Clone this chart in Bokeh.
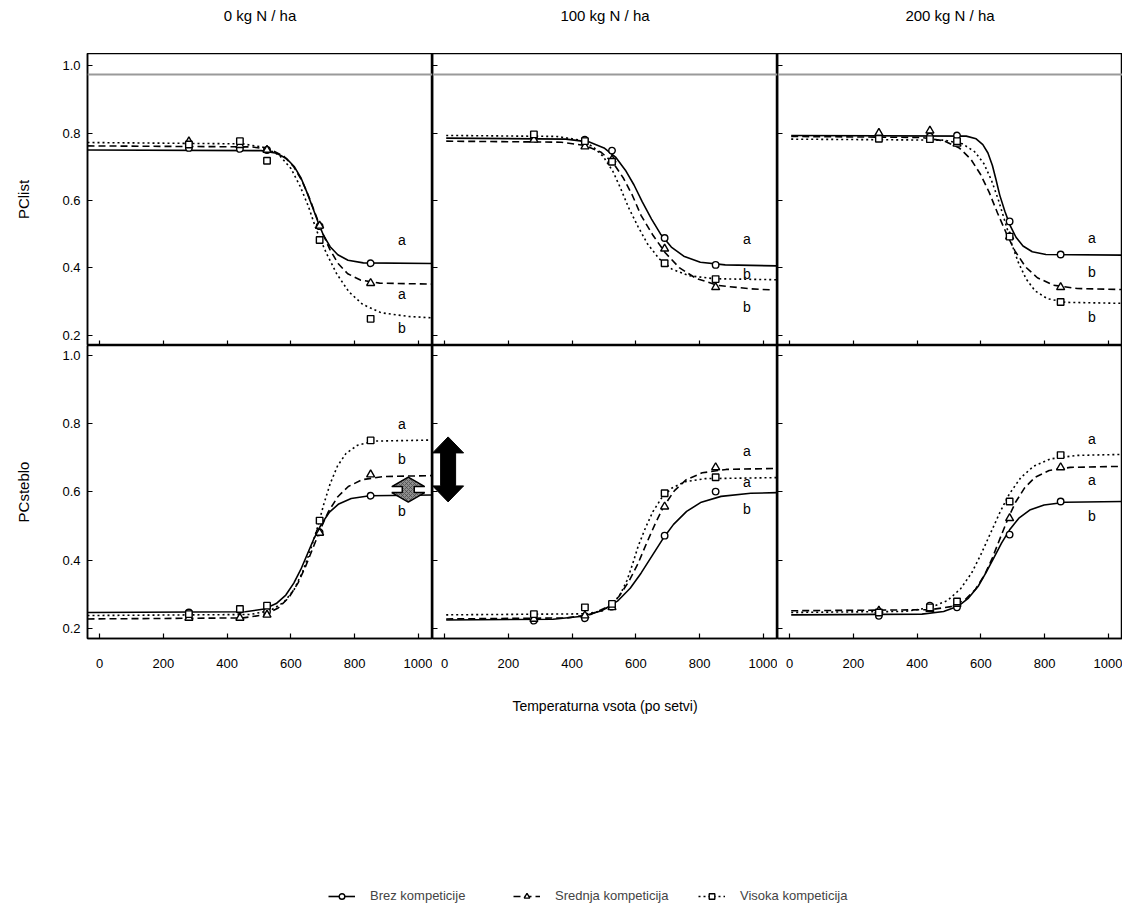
from bokeh.plotting import figure
from bokeh.models import Range1d, Span, Legend, LegendItem, FixedTicker, NumeralTickFormatter
from bokeh.layouts import column, row
from bokeh.embed import file_html
from bokeh.resources import INLINE
from bokeh.core.properties import value

# ------------------------------------------------------------------ data
COLUMN_TITLES = ["0 kg N / ha", "100 kg N / ha", "200 kg N / ha"]
ROW_LABELS = ["PClist", "PCsteblo"]
X_LABEL = "Temperaturna vsota (po setvi)"
SERIES = ["Brez kompeticije", "Srednja kompeticija", "Visoka kompeticija"]
X_TICKS = [0, 200, 400, 600, 800, 1000]
Y_TICKS = [0.2, 0.4, 0.6, 0.8, 1.0]

# measured points (temperature sum after sowing)
X_PTS = [280, 440, 525, 690, 850]

# PClist, 0 kg N/ha
L0_BREZ = [0.756, 0.753, 0.750, 0.524, 0.414]
L0_SRED = [0.775, 0.764, 0.750, 0.525, 0.355]
L0_VIS = [0.766, 0.776, 0.718, 0.483, 0.249]
# PClist, 100 kg N/ha
L100_BREZ = [0.788, 0.780, 0.748, 0.489, 0.409]
L100_SRED = [0.780, 0.760, 0.721, 0.457, 0.343]
L100_VIS = [0.796, 0.776, 0.715, 0.414, 0.367]
# PClist, 200 kg N/ha
L200_BREZ = [0.790, 0.790, 0.793, 0.538, 0.440]
L200_SRED = [0.800, 0.807, 0.768, 0.493, 0.343]
L200_VIS = [0.783, 0.782, 0.776, 0.493, 0.299]
# PCsteblo, 0 kg N/ha
S0_BREZ = [0.247, 0.254, 0.250, 0.482, 0.589]
S0_SRED = [0.231, 0.231, 0.240, 0.480, 0.651]
S0_VIS = [0.242, 0.257, 0.267, 0.516, 0.751]
# PCsteblo, 100 kg N/ha
S100_BREZ = [0.223, 0.230, 0.264, 0.472, 0.601]
S100_SRED = [0.228, 0.238, 0.262, 0.557, 0.672]
S100_VIS = [0.242, 0.262, 0.272, 0.596, 0.643]
# PCsteblo, 200 kg N/ha
S200_BREZ = [0.237, 0.267, 0.262, 0.475, 0.572]
S200_SRED = [0.252, 0.257, 0.272, 0.523, 0.672]
S200_VIS = [0.247, 0.262, 0.279, 0.572, 0.708]

# fitted curves (x, y)
L0_BREZ_FX = [-38, 507, 555, 587, 611, 632, 649, 667, 685, 702, 723, 747, 779, 827, 1044]
L0_BREZ_FY = [0.750, 0.748, 0.740, 0.724, 0.700, 0.666, 0.627, 0.582, 0.536, 0.497, 0.463, 0.439, 0.423, 0.415, 0.413]
L0_SRED_FX = [-38, 478, 538, 578, 608, 634, 656, 678, 700, 722, 748, 778, 818, 878, 1044]
L0_SRED_FY = [0.762, 0.759, 0.750, 0.731, 0.701, 0.660, 0.612, 0.557, 0.502, 0.455, 0.413, 0.383, 0.364, 0.355, 0.352]
L0_VIS_FX = [-38, 450, 519, 565, 600, 629, 655, 680, 712, 744, 782, 825, 883, 970, 1044]
L0_VIS_FY = [0.772, 0.768, 0.757, 0.733, 0.695, 0.642, 0.582, 0.512, 0.442, 0.382, 0.329, 0.292, 0.267, 0.256, 0.252]

L100_BREZ_FX = [5, 380, 452, 500, 536, 567, 594, 620, 649, 677, 711, 750, 802, 880, 1044]
L100_BREZ_FY = [0.785, 0.782, 0.774, 0.756, 0.729, 0.690, 0.646, 0.596, 0.545, 0.501, 0.462, 0.435, 0.417, 0.409, 0.406]
L100_SRED_FX = [5, 366, 441, 491, 529, 561, 589, 616, 654, 692, 737, 789, 858, 961, 1025]
L100_SRED_FY = [0.776, 0.773, 0.763, 0.743, 0.711, 0.666, 0.615, 0.556, 0.496, 0.445, 0.400, 0.369, 0.348, 0.338, 0.335]
L100_VIS_FX = [5, 352, 420, 465, 498, 528, 552, 577, 607, 636, 672, 712, 766, 847, 1044]
L100_VIS_FY = [0.793, 0.790, 0.780, 0.760, 0.730, 0.686, 0.636, 0.579, 0.522, 0.472, 0.428, 0.397, 0.377, 0.368, 0.365]

L200_BREZ_FX = [5, 554, 585, 606, 622, 636, 647, 659, 675, 691, 710, 732, 761, 804, 1044]
L200_BREZ_FY = [0.793, 0.791, 0.783, 0.766, 0.741, 0.704, 0.663, 0.616, 0.568, 0.527, 0.491, 0.465, 0.448, 0.440, 0.438]
L200_SRED_FX = [5, 412, 484, 532, 568, 599, 626, 652, 680, 707, 740, 777, 827, 902, 1044]
L200_SRED_FY = [0.790, 0.787, 0.777, 0.756, 0.723, 0.677, 0.624, 0.563, 0.502, 0.450, 0.403, 0.371, 0.349, 0.339, 0.336]
L200_VIS_FX = [5, 485, 542, 580, 609, 633, 654, 675, 696, 717, 742, 770, 808, 865, 1044]
L200_VIS_FY = [0.782, 0.779, 0.768, 0.745, 0.710, 0.660, 0.604, 0.539, 0.473, 0.417, 0.367, 0.332, 0.309, 0.298, 0.295]

S0_BREZ_FX = [-38, 457, 516, 554, 584, 609, 631, 652, 673, 695, 720, 750, 789, 847, 1044]
S0_BREZ_FY = [0.247, 0.249, 0.257, 0.273, 0.298, 0.333, 0.373, 0.419, 0.465, 0.505, 0.540, 0.565, 0.581, 0.589, 0.591]
S0_SRED_FX = [-38, 450, 516, 560, 593, 622, 646, 670, 694, 718, 747, 780, 824, 890, 1044]
S0_SRED_FY = [0.228, 0.231, 0.240, 0.260, 0.290, 0.333, 0.382, 0.438, 0.494, 0.543, 0.586, 0.616, 0.636, 0.645, 0.648]
S0_VIS_FX = [-38, 473, 536, 578, 610, 637, 660, 683, 703, 723, 746, 773, 809, 863, 1044]
S0_VIS_FY = [0.238, 0.241, 0.253, 0.277, 0.314, 0.367, 0.426, 0.495, 0.564, 0.624, 0.676, 0.713, 0.737, 0.749, 0.752]

S100_BREZ_FX = [5, 340, 433, 495, 542, 582, 616, 650, 684, 718, 759, 805, 867, 960, 1044]
S100_BREZ_FY = [0.225, 0.227, 0.236, 0.253, 0.280, 0.318, 0.362, 0.412, 0.462, 0.505, 0.543, 0.570, 0.587, 0.596, 0.598]
S100_SRED_FX = [5, 383, 458, 508, 546, 578, 606, 633, 661, 688, 721, 758, 808, 883, 1044]
S100_SRED_FY = [0.228, 0.231, 0.241, 0.262, 0.293, 0.338, 0.389, 0.449, 0.508, 0.559, 0.604, 0.636, 0.656, 0.666, 0.669]
S100_VIS_FX = [5, 447, 495, 527, 551, 572, 589, 607, 630, 653, 681, 712, 754, 817, 1044]
S100_VIS_FY = [0.240, 0.243, 0.252, 0.271, 0.300, 0.341, 0.387, 0.441, 0.495, 0.542, 0.583, 0.611, 0.630, 0.639, 0.642]

S200_BREZ_FX = [5, 415, 483, 528, 561, 591, 615, 640, 665, 690, 719, 753, 798, 865, 1044]
S200_BREZ_FY = [0.240, 0.242, 0.250, 0.265, 0.289, 0.323, 0.362, 0.406, 0.451, 0.489, 0.523, 0.547, 0.562, 0.570, 0.572]
S200_SRED_FX = [5, 440, 506, 550, 583, 612, 636, 660, 684, 708, 737, 770, 814, 880, 1044]
S200_SRED_FY = [0.252, 0.255, 0.264, 0.284, 0.315, 0.358, 0.407, 0.464, 0.520, 0.569, 0.612, 0.643, 0.663, 0.672, 0.675]
S200_VIS_FX = [5, 360, 441, 495, 536, 571, 600, 630, 660, 689, 725, 765, 819, 900, 1044]
S200_VIS_FY = [0.247, 0.250, 0.261, 0.282, 0.316, 0.363, 0.417, 0.479, 0.541, 0.594, 0.642, 0.675, 0.697, 0.707, 0.710]

# significance letters (top to bottom) and their heights
L0_LETTERS, L0_LETTER_Y = ["a", "a", "b"], [0.484, 0.324, 0.221]
L100_LETTERS, L100_LETTER_Y = ["a", "b", "b"], [0.487, 0.383, 0.284]
L200_LETTERS, L200_LETTER_Y = ["a", "b", "b"], [0.489, 0.388, 0.256]
S0_LETTERS, S0_LETTER_Y = ["a", "b", "b"], [0.798, 0.697, 0.545]
S100_LETTERS, S100_LETTER_Y = ["a", "a", "b"], [0.721, 0.630, 0.550]
S200_LETTERS, S200_LETTER_Y = ["a", "a", "b"], [0.756, 0.635, 0.531]

# ------------------------------------------------------------------ assembly
PANEL_DATA = [
    [  # PClist
        dict(pts=[L0_BREZ, L0_SRED, L0_VIS],
             fit=[(L0_BREZ_FX, L0_BREZ_FY), (L0_SRED_FX, L0_SRED_FY), (L0_VIS_FX, L0_VIS_FY)],
             letters=L0_LETTERS, letter_y=L0_LETTER_Y),
        dict(pts=[L100_BREZ, L100_SRED, L100_VIS],
             fit=[(L100_BREZ_FX, L100_BREZ_FY), (L100_SRED_FX, L100_SRED_FY), (L100_VIS_FX, L100_VIS_FY)],
             letters=L100_LETTERS, letter_y=L100_LETTER_Y),
        dict(pts=[L200_BREZ, L200_SRED, L200_VIS],
             fit=[(L200_BREZ_FX, L200_BREZ_FY), (L200_SRED_FX, L200_SRED_FY), (L200_VIS_FX, L200_VIS_FY)],
             letters=L200_LETTERS, letter_y=L200_LETTER_Y),
    ],
    [  # PCsteblo
        dict(pts=[S0_BREZ, S0_SRED, S0_VIS],
             fit=[(S0_BREZ_FX, S0_BREZ_FY), (S0_SRED_FX, S0_SRED_FY), (S0_VIS_FX, S0_VIS_FY)],
             letters=S0_LETTERS, letter_y=S0_LETTER_Y),
        dict(pts=[S100_BREZ, S100_SRED, S100_VIS],
             fit=[(S100_BREZ_FX, S100_BREZ_FY), (S100_SRED_FX, S100_SRED_FY), (S100_VIS_FX, S100_VIS_FY)],
             letters=S100_LETTERS, letter_y=S100_LETTER_Y),
        dict(pts=[S200_BREZ, S200_SRED, S200_VIS],
             fit=[(S200_BREZ_FX, S200_BREZ_FY), (S200_SRED_FX, S200_SRED_FY), (S200_VIS_FX, S200_VIS_FY)],
             letters=S200_LETTERS, letter_y=S200_LETTER_Y),
    ],
]

FONT = "Liberation Sans"
DASHES = ["solid", "7 4", "2 3"]
MARKERS = ["circle", "triangle", "square"]
MSIZES = [6.5, 8, 6.5]

LEFT_B = 87          # room for the y-axis texts
HEADER_H = 53        # room for the column titles
FW = 345
FH = [292, 293]
BOTTOM_B = 100
TOTAL_W = LEFT_B + 3 * FW
XR = (-38, 1044)
YR = [(0.170, 1.036), (0.1707, 1.029)]
LETTER_X = 948


def shape_in_data(cx, cy, pts_px, r):
    sx = (XR[1] - XR[0]) / FW
    sy = (YR[r][1] - YR[r][0]) / FH[r]
    return [cx + a * sx for a, b in pts_px], [cy + b * sy for a, b in pts_px]


def hide_labels(ax):
    ax.major_label_text_font_size = "0px"
    ax.major_label_text_color = None
    ax.major_label_standoff = 0


def make_panel(r, c):
    left = LEFT_B if c == 0 else 0
    bottom = BOTTOM_B if r == 1 else 0
    p = figure(frame_width=FW, frame_height=FH[r],
               x_range=Range1d(*XR), y_range=Range1d(*YR[r]),
               min_border=0, min_border_left=left, min_border_right=0,
               min_border_top=0, min_border_bottom=bottom,
               output_backend="svg", toolbar_location=None)
    p.xgrid.visible = False
    p.ygrid.visible = False
    p.outline_line_color = "black"
    p.outline_line_width = 1.5
    p.outline_line_alpha = 1
    for ax in (p.xaxis[0], p.yaxis[0]):
        ax.major_tick_in = 5
        ax.major_tick_out = 0
        ax.minor_tick_line_color = None
        ax.axis_line_color = "black"
        ax.axis_line_width = 1.5
        ax.major_tick_line_color = "black"
        ax.major_tick_line_width = 1.2
        ax.major_label_text_font = FONT
        ax.axis_label_text_font = FONT
        ax.axis_label_text_font_style = "normal"
        ax.major_label_text_color = "black"
        ax.axis_label_text_color = "black"
    p.xaxis.ticker = FixedTicker(ticks=X_TICKS)
    p.yaxis.ticker = FixedTicker(ticks=Y_TICKS)
    p.yaxis.formatter = NumeralTickFormatter(format="0.0")
    if c == 0:
        p.yaxis.major_label_text_font_size = "13px"
        p.yaxis.major_label_standoff = 7
        p.yaxis.axis_label = ROW_LABELS[r]
        p.yaxis.axis_label_text_font_size = "15px"
        p.yaxis.axis_label_standoff = 27
    else:
        hide_labels(p.yaxis[0])
    if r == 1:
        p.xaxis.major_label_text_font_size = "13px"
        p.xaxis.major_label_standoff = 20
        if c == 1:
            p.xaxis.axis_label = X_LABEL
            p.xaxis.axis_label_text_font_size = "14px"
            p.xaxis.axis_label_standoff = 27
    else:
        hide_labels(p.xaxis[0])

    d = PANEL_DATA[r][c]
    for i in range(3):
        fx, fy = d["fit"][i]
        p.line(fx, fy, line_color="black", line_width=1.6, line_dash=DASHES[i])
    for i in range(3):
        p.scatter(X_PTS, d["pts"][i], marker=MARKERS[i], size=MSIZES[i],
                  line_color="black", line_width=1.4, fill_color="white")
    p.text(x=[LETTER_X] * 3, y=d["letter_y"], text=d["letters"],
           text_font=value(FONT), text_font_size="14px", text_color="black",
           text_align="center", text_baseline="middle")
    if r == 0:
        p.add_layout(Span(location=0.974, dimension="width", line_color="#9a9a9a",
                          line_width=2))
    return p


rows = [[make_panel(r, c) for c in range(3)] for r in range(2)]

# annotation arrows drawn on the original figure
big_arrow = [(0, 32.5), (15.5, 16.5), (7.5, 16.5), (7.5, -16.5), (15.5, -16.5), (0, -32.5),
             (-15.5, -16.5), (-7.5, -16.5), (-7.5, 16.5), (-15.5, 16.5)]
bx, by = shape_in_data(11, 0.666, big_arrow, 1)
rows[1][1].patch(bx, by, fill_color="black", line_color="black", line_width=1)

small_arrow = [(0, 12.5), (16.5, 3), (6, 3), (6, -3), (16.5, -3), (0, -12.5),
               (-16.5, -3), (-6, -3), (-6, 3), (-16.5, 3)]
gx, gy = shape_in_data(968, 0.607, small_arrow, 1)
rows[1][0].patch(gx, gy, fill_color="#8f8f8f", line_color="black", line_width=1.5,
                 hatch_pattern="x", hatch_color="#444444", hatch_scale=4, hatch_alpha=0.7)

# header strip with the column titles (screen-like coordinates)
head = figure(width=TOTAL_W, height=HEADER_H, x_range=Range1d(0, TOTAL_W),
              y_range=Range1d(0, HEADER_H), min_border=0, x_axis_type=None,
              y_axis_type=None, output_backend="svg", toolbar_location=None)
head.outline_line_color = None
head.text(x=[LEFT_B + FW * (k + 0.5) for k in range(3)], y=[HEADER_H - 15] * 3,
          text=COLUMN_TITLES, text_font=value(FONT), text_font_size="15px",
          text_color="black", text_align="center", text_baseline="middle")

# legend strip (proxy renderers lie outside the strip's ranges)
LEG_H = 178
leg = figure(width=TOTAL_W, height=LEG_H, x_range=Range1d(0, 1), y_range=Range1d(0, 1),
             min_border=0, x_axis_type=None, y_axis_type=None,
             output_backend="svg", toolbar_location=None)
leg.outline_line_color = None
items = []
proxy = [S100_BREZ, S100_SRED, S100_VIS]
for i in range(3):
    ln = leg.line(x=X_PTS, y=proxy[i], line_color="black", line_width=1.6, line_dash=DASHES[i])
    sc = leg.scatter(x=X_PTS, y=proxy[i], marker=MARKERS[i], size=MSIZES[i], line_color="black",
                     line_width=1.4, fill_color="white")
    items.append(LegendItem(label=SERIES[i], renderers=[ln, sc]))
legend = Legend(items=items, orientation="horizontal", location=(328, 13),
                glyph_width=27, glyph_height=14, label_standoff=15, label_width=136,
                spacing=7, padding=0, margin=0, border_line_color=None,
                background_fill_alpha=0, label_text_font=FONT,
                label_text_font_size="13px", label_height=14)
leg.add_layout(legend)

layout = column(head, row(*rows[0]), row(*rows[1]), leg)

with open("out.html", "w") as f:
    f.write(file_html(layout, INLINE))
